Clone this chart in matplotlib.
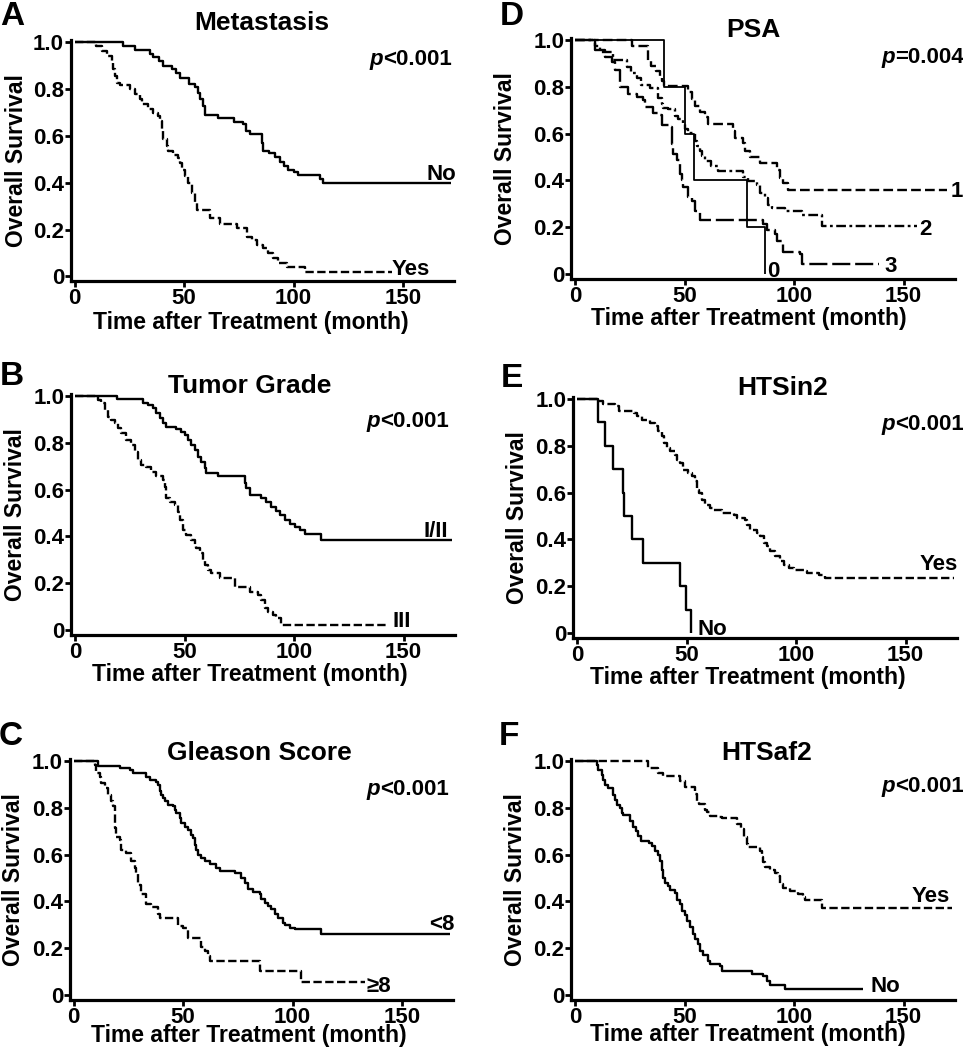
import numpy as np
import matplotlib.pyplot as plt

plt.rcParams['font.family'] = ['Liberation Sans', 'DejaVu Sans']
plt.rcParams['font.weight'] = 'bold'
plt.rcParams['axes.labelweight'] = 'bold'
plt.rcParams['lines.scale_dashes'] = False

# ---- data (months, survival after each drop) ----
# A: Metastasis
a_no_t = [22, 27.5, 34.5, 36, 38.5, 40.5, 44.5, 46.5, 48, 52.5, 55, 56.5, 57.5, 58.5, 59.5, 65.5,
          73, 77, 78.5, 80, 85.5, 86, 89, 91.5, 94, 95.5, 97.5, 100, 102, 112, 113.5]
a_no_s = [0.984, 0.967, 0.949, 0.939, 0.92, 0.90, 0.884, 0.867, 0.849, 0.82, 0.81, 0.785, 0.756,
          0.728, 0.689, 0.678, 0.659, 0.649, 0.62, 0.606, 0.571, 0.535, 0.525, 0.511, 0.488, 0.471,
          0.456, 0.445, 0.431, 0.414, 0.398]
a_yes_t = [10, 12.4, 14.7, 17, 17.7, 18.5, 19.3, 20.8, 25.3, 27.6, 29.9, 30.7, 33.7, 36, 38.3, 39,
           39.8, 40.6, 42.1, 42.8, 45.1, 47.4, 48.2, 48.9, 50.5, 52, 53.5, 55, 55.8, 61.9, 66.4, 74,
           78.6, 80.9, 83.2, 86.2, 88.5, 90.8, 93.1, 96.9, 105.2]
a_yes_s = [0.984, 0.963, 0.942, 0.913, 0.884, 0.856, 0.827, 0.816, 0.799, 0.777, 0.756, 0.735,
           0.714, 0.699, 0.685, 0.664, 0.628, 0.585, 0.556, 0.535, 0.52, 0.506, 0.485, 0.456, 0.428,
           0.4, 0.357, 0.314, 0.285, 0.25, 0.225, 0.207, 0.17, 0.153, 0.135, 0.121, 0.1, 0.078,
           0.057, 0.04, 0.017]

# B: Tumor Grade
b_i_t = [19.3, 31, 33.3, 35.6, 37.1, 38.7, 40.2, 41.7, 46.3, 48.6, 50.1, 51.6, 53.1, 54.6, 56.2,
         57.7, 59.2, 60, 65.3, 77.5, 78.2, 79.8, 85.1, 87.4, 89.6, 91.9, 93.5, 95.7, 98, 100.3,
         102.6, 104.9, 112.5]
b_i_s = [0.986, 0.969, 0.962, 0.947, 0.926, 0.905, 0.883, 0.869, 0.858, 0.848, 0.833, 0.812,
         0.791, 0.769, 0.741, 0.719, 0.691, 0.67, 0.658, 0.627, 0.605, 0.577, 0.563, 0.549, 0.527,
         0.51, 0.491, 0.47, 0.453, 0.442, 0.427, 0.41, 0.385]
b_iii_t = [10.5, 12, 13.5, 15.1, 16.6, 18.1, 19.6, 21.2, 23.4, 25.7, 27.2, 28.8, 30.3, 32.6, 34.9,
           37.1, 40.2, 40.9, 41.7, 43.2, 45.5, 47, 47.8, 49.3, 50.8, 53.1, 54.6, 55.4, 56.9, 58.4,
           59.2, 60.7, 62.2, 66.1, 72.9, 79.8, 83.6, 85.1, 86.6, 88.1, 90.4, 91.9, 94.2]
b_iii_s = [0.983, 0.969, 0.94, 0.912, 0.897, 0.883, 0.862, 0.84, 0.812, 0.79, 0.761, 0.726, 0.705,
           0.698, 0.677, 0.658, 0.641, 0.613, 0.563, 0.549, 0.534, 0.506, 0.47, 0.427, 0.406,
           0.385, 0.363, 0.349, 0.328, 0.299, 0.278, 0.256, 0.242, 0.221, 0.185, 0.164, 0.15,
           0.128, 0.093, 0.078, 0.064, 0.05, 0.021]

# C: Gleason Score
c_lt_t = [11.2, 21.1, 25.6, 27.2, 33.3, 34.8, 37.8, 38.6, 39.3, 40.1, 40.9, 41.6, 43.1, 45.4,
          46.2, 46.9, 48.5, 49.2, 50.8, 52.3, 53.8, 54.6, 55.3, 56.1, 56.8, 58.4, 59.9, 62.2, 65.2,
          66.7, 73.6, 76.6, 78.2, 79.7, 82, 85, 85.8, 87.3, 88.8, 90.3, 91.9, 93.4, 95.7, 96.4,
          98.7, 101, 113.2]
c_lt_s = [0.979, 0.968, 0.962, 0.948, 0.933, 0.919, 0.912, 0.898, 0.87, 0.855, 0.84, 0.827, 0.813,
          0.806, 0.791, 0.777, 0.756, 0.735, 0.72, 0.706, 0.685, 0.671, 0.643, 0.621, 0.6, 0.586,
          0.572, 0.56, 0.543, 0.532, 0.522, 0.5, 0.479, 0.451, 0.441, 0.43, 0.409, 0.394, 0.38,
          0.366, 0.348, 0.331, 0.309, 0.299, 0.288, 0.281, 0.26]
c_ge_t = [9.7, 10.4, 11.9, 12.7, 14.2, 15.8, 17.3, 18, 18.8, 19.6, 21.1, 21.8, 24.1, 26.4, 27.9,
          28.7, 29.4, 31, 33.3, 35.5, 38.6, 39.3, 47.7, 50, 52.3, 58.4, 59.9, 61.4, 62.2, 85, 104]
c_ge_s = [0.983, 0.95, 0.933, 0.905, 0.884, 0.855, 0.827, 0.806, 0.713, 0.677, 0.663, 0.621, 0.607,
          0.572, 0.543, 0.522, 0.472, 0.43, 0.387, 0.376, 0.345, 0.33, 0.295, 0.288, 0.245, 0.203,
          0.189, 0.167, 0.146, 0.103, 0.054]

# D: PSA (groups 0-3)
d0_t = [40.5, 50.3, 54.2, 78.6, 86.6]
d0_s = [0.8, 0.6, 0.4, 0.2, 0.0]
d1_t = [25.8, 33.4, 34.9, 37.2, 38.7, 39.5, 40.7, 51.7, 53.2, 54.7, 57, 59.3, 60.8, 72.3, 73,
        76.8, 77.6, 79.9, 84.5, 92.1, 93.6, 95.1, 97.4]
d1_s = [0.976, 0.911, 0.89, 0.868, 0.847, 0.826, 0.804, 0.776, 0.747, 0.718, 0.694, 0.671, 0.639,
        0.611, 0.582, 0.561, 0.525, 0.499, 0.475, 0.446, 0.41, 0.389, 0.36]
d2_t = [9.1, 11.4, 17.5, 23.6, 25.5, 28.5, 30.3, 34.2, 38, 39.5, 40.2, 42.5, 45.6, 47.1, 49.4,
        50.2, 51.7, 54.7, 55.5, 57, 57.8, 59.3, 62.3, 65.4, 76.9, 79.1, 82.9, 84.5, 86.7, 88.3,
        89.8, 95.9, 103.5, 112.7]
d2_s = [0.975, 0.95, 0.914, 0.886, 0.858, 0.836, 0.808, 0.793, 0.754, 0.725, 0.711, 0.704, 0.675,
        0.661, 0.647, 0.618, 0.604, 0.568, 0.546, 0.525, 0.504, 0.482, 0.461, 0.439, 0.414, 0.396,
        0.382, 0.346, 0.325, 0.296, 0.282, 0.268, 0.253, 0.203]
d3_t = [9.1, 13.7, 16.7, 18.3, 20.5, 24.4, 28.2, 31.2, 32, 35.8, 38.8, 39.6, 43.4, 44.1, 44.9,
        46.4, 47.9, 48.7, 49.5, 51.8, 53.3, 54.8, 57.1, 86, 87.5, 91.3, 92.1, 94.4, 95.1, 102.7,
        103.5]
d3_s = [0.957, 0.929, 0.907, 0.871, 0.8, 0.771, 0.757, 0.743, 0.714, 0.686, 0.679, 0.636, 0.629,
        0.557, 0.514, 0.486, 0.429, 0.4, 0.371, 0.329, 0.314, 0.271, 0.229, 0.214, 0.186, 0.171,
        0.143, 0.129, 0.093, 0.086, 0.043]

# E: HTSin2
e_no_t = [9.5, 12.8, 16.6, 20.8, 21.5, 25, 30, 47, 49.8, 52.2]
e_no_s = [0.9, 0.8, 0.7, 0.6, 0.5, 0.4, 0.3, 0.2, 0.1, 0.0]
e_yes_t = [9.8, 12, 17.4, 19, 25.8, 27.3, 29.6, 33.4, 35.7, 37.2, 38.7, 39.5, 41, 42.5, 44.8, 45.6,
           47.1, 48.6, 50.9, 52.4, 54, 54.7, 55.5, 57, 58.5, 60.8, 62.3, 66.2, 71.5, 73, 76.8,
           77.6, 79.1, 82.2, 83.7, 85.2, 86.7, 88.3, 90.5, 92.8, 94.4, 96.6, 98.9, 103.5, 105,
           110.4, 113.4]
e_yes_s = [0.991, 0.977, 0.969, 0.947, 0.94, 0.926, 0.912, 0.897, 0.883, 0.862, 0.84, 0.812,
           0.791, 0.776, 0.762, 0.741, 0.726, 0.698, 0.684, 0.67, 0.648, 0.613, 0.598, 0.57, 0.548,
           0.534, 0.527, 0.513, 0.506, 0.491, 0.484, 0.463, 0.442, 0.427, 0.413, 0.385, 0.37,
           0.349, 0.328, 0.306, 0.292, 0.278, 0.271, 0.264, 0.256, 0.249, 0.235]

# F: HTSaf2
f_yes_t = [33.5, 38, 40.3, 48, 50.3, 55, 55.8, 56.5, 59.4, 60.3, 61.6, 65.5, 67, 73.8, 76, 77,
           78.4, 79.1, 84.5, 85.5, 86, 86.8, 89, 91.3, 92.8, 93.5, 95.1, 98.1, 101.9, 104.2, 105,
           112.6]
f_yes_s = [0.969, 0.95, 0.937, 0.915, 0.887, 0.858, 0.83, 0.816, 0.79, 0.78, 0.766, 0.76, 0.755,
           0.73, 0.709, 0.674, 0.645, 0.631, 0.617, 0.589, 0.567, 0.547, 0.536, 0.523, 0.51, 0.473,
           0.457, 0.445, 0.43, 0.42, 0.406, 0.372]
f_no_t = [9.9, 10.7, 12.2, 12.9, 13.7, 15.2, 17.5, 18.3, 19, 20.5, 21.5, 22.1, 25.1, 26.5, 28,
          28.7, 30.2, 34, 35, 36.5, 38, 38.8, 39.6, 40.3, 41.1, 42.6, 43.4, 45.7, 46.4, 48, 48.7,
          50.2, 51, 52.5, 54, 54.8, 56.3, 57.1, 58.6, 60.9, 61.6, 66.2, 67, 80.7, 86, 87.5, 89, 95.9]
f_no_s = [0.983, 0.962, 0.94, 0.919, 0.898, 0.884, 0.855, 0.835, 0.813, 0.8, 0.778, 0.77, 0.742,
          0.72, 0.7, 0.678, 0.658, 0.65, 0.636, 0.615, 0.6, 0.572, 0.536, 0.5, 0.48, 0.465, 0.45,
          0.436, 0.408, 0.387, 0.36, 0.34, 0.317, 0.289, 0.26, 0.24, 0.22, 0.19, 0.17, 0.146,
          0.132, 0.125, 0.104, 0.089, 0.082, 0.061, 0.044, 0.026]

x_ticks = [0, 50, 100, 150]
y_ticks = [0, 0.2, 0.4, 0.6, 0.8, 1.0]
y_tick_labels = ['0', '0.2', '0.4', '0.6', '0.8', '1.0']

# ---- layout ----
W, H = 963, 1050
fig = plt.figure(figsize=(W / 100, H / 100), dpi=100)
fig.patch.set_facecolor('white')

XMIN, XMAX = -1.6, 173.3
YMIN, YMAX = -0.02, 1.01
PX_X = 2.19   # pixels per month
PX_Y = 234    # pixels per survival unit

solid = dict(linestyle='-', lw=1.7)
dashed = dict(linestyle=(0, (6, 2.5)), lw=1.7)


def ftext(x, y, s, **kw):
    fig.text(x / W, 1 - y / H, s, **kw)


def make_axes(x0, y1, ylab_x, xlab_x, xlab_y):
    left = x0 + XMIN * PX_X
    top = y1 - (YMAX - 1) * PX_Y
    w = (XMAX - XMIN) * PX_X
    h = (YMAX - YMIN) * PX_Y
    ax = fig.add_axes([left / W, 1 - (top + h) / H, w / W, h / H])
    ax.set_xlim(XMIN, XMAX)
    ax.set_ylim(YMIN, YMAX)
    for side in ['top', 'right']:
        ax.spines[side].set_visible(False)
    for side in ['left', 'bottom']:
        ax.spines[side].set_linewidth(2.3)
    ax.set_xticks(x_ticks)
    ax.set_yticks(y_ticks)
    ax.set_yticklabels(y_tick_labels)
    ax.tick_params(direction='out', length=4, width=2, labelsize=16, pad=1)
    ax.set_ylabel('Overall Survival', fontsize=16.5, va='center')
    ax.yaxis.set_label_coords((ylab_x - left) / w, 0.5)
    ax.set_xlabel('Time after Treatment (month)', fontsize=16.5, va='baseline')
    ax.xaxis.set_label_coords((xlab_x - left) / w, -(xlab_y - top - h) / h)
    return ax


def km(ax, t, s, end, style):
    x = np.r_[0, t, end]
    y = np.r_[1, s, s[-1]]
    ax.step(x, y, where='post', color='black', clip_on=False,
            solid_capstyle='butt', dash_capstyle='butt', **style)


def panel_text(letter, lpos, title, tpos, pval, ppos):
    ftext(lpos[0], lpos[1], letter, fontsize=24, ha='center', va='baseline')
    ftext(tpos[0], tpos[1], title, fontsize=19, ha='center', va='baseline')
    ftext(ppos[0], ppos[1], 'p', fontsize=16, ha='right', va='baseline', style='italic')
    ftext(ppos[0], ppos[1], pval, fontsize=16, ha='left', va='baseline')


# A
ax = make_axes(74.5, 42.3, 16.7, 251, 329)
km(ax, a_no_t, a_no_s, 172, solid)
km(ax, a_yes_t, a_yes_s, 145, dashed)
panel_text('A', (12.5, 25), 'Metastasis', (262, 30), '<0.001', (383, 65))
ftext(426, 180, 'No', fontsize=16, va='baseline')
ftext(392, 275, 'Yes', fontsize=16, va='baseline')

# B
ax = make_axes(75, 396, 16, 250, 681)
km(ax, b_i_t, b_i_s, 172, solid)
km(ax, b_iii_t, b_iii_s, 142.5, dashed)
panel_text('B', (11.5, 385), 'Tumor Grade', (249.5, 393), '<0.001', (380, 426.7))
ftext(423, 536.7, 'I/II', fontsize=16, va='baseline')
ftext(392, 627.3, 'III', fontsize=16, va='baseline')

# C
ax = make_axes(73.5, 761, 14, 249, 1042)
km(ax, c_lt_t, c_lt_s, 172, solid)
km(ax, c_ge_t, c_ge_s, 133, dashed)
panel_text('C', (11, 745), 'Gleason Score', (259, 760), '<0.001', (380, 795))
ftext(429, 930, '<8', fontsize=16, va='baseline')
ftext(366, 991.7, '\u22658', fontsize=16, va='baseline')

# D
ax = make_axes(575, 40, 505, 748.5, 325)
km(ax, d1_t, d1_s, 170, dict(linestyle=(0, (7, 3)), lw=1.7))
km(ax, d2_t, d2_s, 156, dict(linestyle=(0, (7, 2.5, 2, 2.5)), lw=1.7))
km(ax, d3_t, d3_s, 139, dict(linestyle=(0, (13, 3.5)), lw=1.7))
km(ax, d0_t, d0_s, d0_t[-1], dict(linestyle='-', lw=1.3))
panel_text('D', (512, 25), 'PSA', (753, 37), '=0.004', (895, 63.3))
ftext(951, 196.7, '1', fontsize=16, va='baseline')
ftext(919, 235, '2', fontsize=16, va='baseline')
ftext(884, 271.7, '3', fontsize=16, va='baseline')
ftext(767, 276.7, '0', fontsize=16, va='baseline')

# E
ax = make_axes(577, 399, 517, 747.5, 684)
km(ax, e_yes_t, e_yes_s, 172, dashed)
km(ax, e_no_t, e_no_s, e_no_t[-1], solid)
panel_text('E', (512, 387), 'HTSin2', (783, 395), '<0.001', (895, 430))
ftext(920, 570, 'Yes', fontsize=16, va='baseline')
ftext(697, 635, 'No', fontsize=16, va='baseline')

# F
ax = make_axes(575, 761, 515, 747.5, 1041)
km(ax, f_yes_t, f_yes_s, 172, dashed)
km(ax, f_no_t, f_no_s, 131.7, solid)
panel_text('F', (509, 745), 'HTSaf2', (767, 760), '<0.001', (895, 791.7))
ftext(912, 901.7, 'Yes', fontsize=16, va='baseline')
ftext(870, 991.7, 'No', fontsize=16, va='baseline')

fig.savefig('out.png', dpi=100, facecolor='white')
